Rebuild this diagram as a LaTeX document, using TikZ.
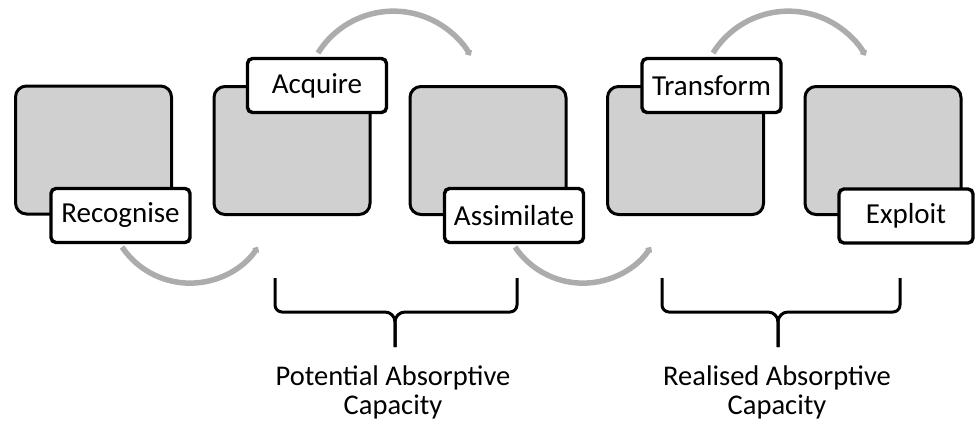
\documentclass[tikz,border=0pt]{standalone}
\usepackage{fontspec}
\setmainfont{Carlito}
\usetikzlibrary{arrows.meta}
\definecolor{boxgray}{RGB}{208,208,208}
\definecolor{arcgray}{RGB}{172,172,172}
\begin{document}
\begin{tikzpicture}[x=1pt,y=1pt,
  stagebox/.style={draw=black, line width=3pt, fill=boxgray, rounded corners=11pt,
    minimum width=156pt, minimum height=128pt, inner sep=0pt},
  tag/.style={draw=black, line width=3.4pt, fill=white, rounded corners=5pt,
    minimum width=139pt, minimum height=54pt, inner sep=0pt,
    font=\fontsize{29}{34}\selectfont},
  flow/.style={draw=arcgray, line width=5.5pt,
    -{Triangle[length=5pt,width=9pt,round]}},
  brace/.style={draw=black, line width=3pt, line join=round},
  caption/.style={align=center, font=\fontsize{28.5}{29}\selectfont}]
\useasboundingbox (0,0) rectangle (975,-423);

% five stages
\node[stagebox] (b1) at (93.5,-150) {};
\node[stagebox] (b2) at (292,-150.5) {};
\node[stagebox] (b3) at (488,-150.5) {};
\node[stagebox] (b4) at (685.5,-150.5) {};
\node[stagebox] (b5) at (883,-150.5) {};

% stage labels
\node[tag] (recognise) at (120.5,-215.5) {Recognise};
\node[tag] (acquire) at (317,-85.5) {Acquire};
\node[tag] (assimilate) at (514,-215.5) {Assimilate};
\node[tag] (transform) at (711.5,-85.5) {Transform};
\node[tag, minimum width=134pt] (exploit) at (906,-216) {Exploit};

% start points of the flow arcs, just outside the labels
\coordinate (f1) at (122,-247);
\coordinate (f2) at (318,-53);
\coordinate (f3) at (515,-247);
\coordinate (f4) at (713,-53);

% flow arcs between the stages
\draw[flow] (f1) arc[start angle=214, end angle=326, radius=82];
\draw[flow] (f2) arc[start angle=148, end angle=30, radius=89];
\draw[flow] (f3) arc[start angle=214, end angle=326, radius=82];
\draw[flow] (f4) arc[start angle=148, end angle=30, radius=89];

% braces
\draw[brace] (275,-278) -- (275,-305) arc[start angle=180, end angle=270, radius=7]
  -- (385,-312) arc[start angle=90, end angle=0, radius=10] -- (395,-347);
\draw[brace] (517,-278) -- (517,-305) arc[start angle=0, end angle=-90, radius=7]
  -- (405,-312) arc[start angle=90, end angle=180, radius=10] -- (395,-347);
\draw[brace] (662,-278) -- (662,-305) arc[start angle=180, end angle=270, radius=7]
  -- (768,-312) arc[start angle=90, end angle=0, radius=10] -- (778,-347);
\draw[brace] (900,-278) -- (900,-305) arc[start angle=0, end angle=-90, radius=7]
  -- (788,-312) arc[start angle=90, end angle=180, radius=10] -- (778,-347);

\node[caption] (pac) at (393,-392) {Potential Absorptive\\Capacity};
\node[caption] (rac) at (777,-392) {Realised Absorptive\\Capacity};
\end{tikzpicture}
\end{document}
